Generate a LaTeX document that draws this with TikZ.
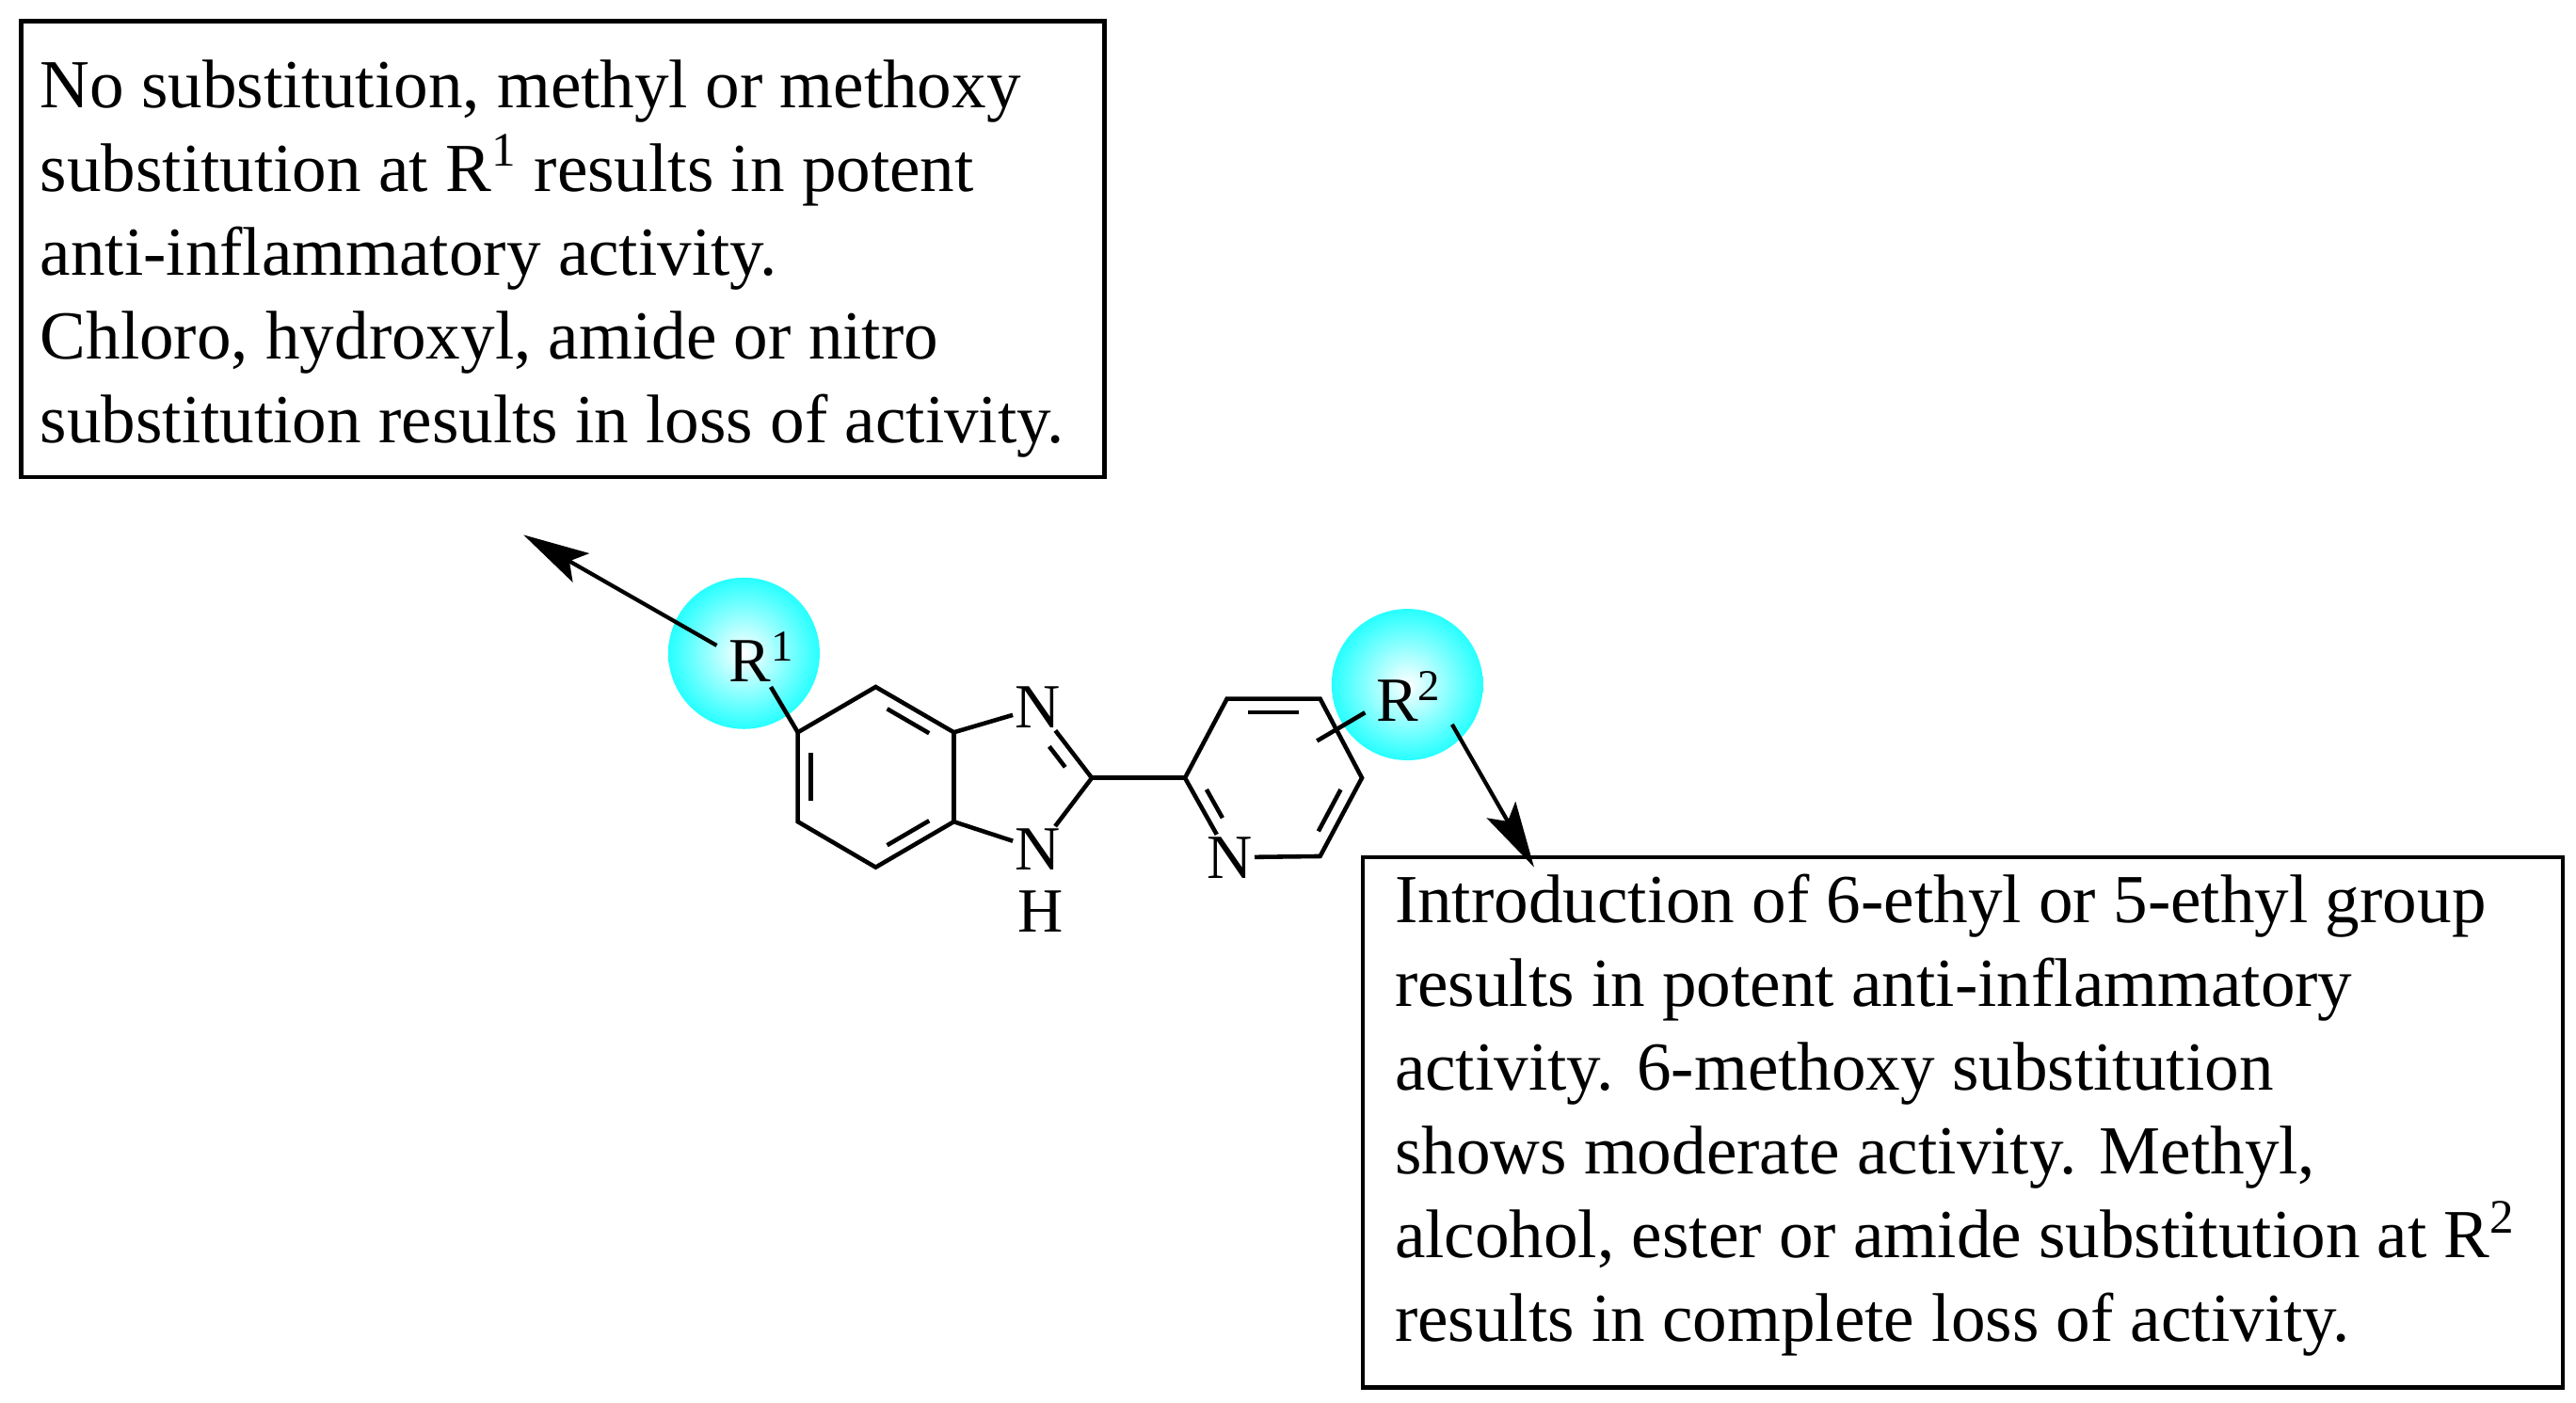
\documentclass[tikz,border=0pt]{standalone}
\usepackage{fontspec}
\setmainfont{Liberation Serif}
\usetikzlibrary{arrows.meta,calc}
\begin{document}
\begin{tikzpicture}[x=0.01749cm,y=-0.01749cm,
  bond/.style={line width=1.3pt},
  box/.style={draw,line width=1.3pt},
  txt/.style={anchor=north west,align=left,inner sep=0pt,font=\fontsize{20.8}{25.3}\selectfont},
  atom/.style={inner sep=0.5pt,fill=white,font=\fontsize{19}{19}\selectfont},
  arr/.style={line width=1.2pt,-{Stealth[length=20pt,width=10pt,inset=4pt]}}]
\useasboundingbox (0,0) rectangle (1565,852);
% boxes
\draw[box] (13,13) rectangle (671,290);
\node[txt] (t1) at (24,36) {No substitution, methyl or methoxy\\substitution at R\textsuperscript{1} results in potent\\anti-inflammatory activity.\\Chloro, hydroxyl, amide or nitro\\substitution results in loss of activity.};
\draw[box] (828,521) rectangle (1557,843);
\node[txt] (t2) at (847,531) {Introduction of 6-ethyl or 5-ethyl group\\results in potent anti-inflammatory\\activity. 6-methoxy substitution\\shows moderate activity. Methyl,\\alcohol, ester or amide substitution at R\textsuperscript{2}\\results in complete loss of activity.};
% circles
\shade[inner color=white,outer color=cyan!85!white] (452,397) ellipse (46 and 46);
\shade[inner color=white,outer color=cyan!85!white] (855,416) ellipse (46 and 46);
% coordinates
\coordinate (c5) at (484.7,445);
\coordinate (c4) at (532,417.4);
\coordinate (c3a) at (579.5,445);
\coordinate (c7a) at (579.5,499.3);
\coordinate (c7) at (532,527);
\coordinate (c6) at (484.7,499.3);
\coordinate (bc) at (532,472);
\coordinate (c2) at (663.3,472.7);
\coordinate (ic) at (612,472);
\coordinate (n3p) at (630.5,430);
\coordinate (p2) at (719.9,472.7);
\coordinate (p3) at (745.4,424.6);
\coordinate (p4) at (802,424.6);
\coordinate (p5) at (827.4,472.7);
\coordinate (p6) at (802,520.3);
\coordinate (pnp) at (747,521);
\coordinate (pc) at (773.7,472.7);
\node[atom] (n3) at (n3p) {N};
\node[atom] (n1) at (630.5,516) {N};
\node[atom,fill=none] (h1) at (632,554) {H};
\node[atom] (pn) at (pnp) {N};
\node[atom,fill=none] (r1) at (463,399) {R\textsuperscript{1}};
\node[atom,fill=none] (r2) at (856,423) {R\textsuperscript{2}};
\coordinate (r1b) at (468.3,417.4);
\coordinate (r2a) at (800.1,450.2);
\coordinate (r2b) at (829.3,433);
% bonds
\draw[bond] (c5)--(c4)--(c3a)--(c7a)--(c7)--(c6)--cycle;
\draw[bond,shorten <=4pt,shorten >=4pt] ($(c6)!0.17!(bc)$)--($(c5)!0.17!(bc)$);
\draw[bond,shorten <=4pt,shorten >=4pt] ($(c4)!0.17!(bc)$)--($(c3a)!0.17!(bc)$);
\draw[bond,shorten <=4pt,shorten >=4pt] ($(c7a)!0.17!(bc)$)--($(c7)!0.17!(bc)$);
\draw[bond] (c3a)--(n3);
\draw[bond] (c7a)--(n1);
\draw[bond] (n3)--(c2)--(n1);
\draw[bond,shorten <=9pt,shorten >=4pt] ($(n3p)!0.22!(ic)$)--($(c2)!0.22!(ic)$);
\draw[bond] (c2)--(p2);
\draw[bond] (pn)--(p2)--(p3)--(p4)--(p5)--(p6)--(pn);
\draw[bond,shorten <=4pt,shorten >=4pt] ($(p3)!0.17!(pc)$)--($(p4)!0.17!(pc)$);
\draw[bond,shorten <=4pt,shorten >=4pt] ($(p5)!0.17!(pc)$)--($(p6)!0.17!(pc)$);
\draw[bond,shorten <=4pt,shorten >=9pt] ($(p2)!0.17!(pc)$)--($(pnp)!0.17!(pc)$);
\draw[bond] (c5)--(r1b);
\draw[bond] (r2a)--(r2b);
% arrows
\coordinate (a1s) at (435.4,392.2);
\coordinate (a1e) at (318,325);
\coordinate (a2s) at (882.2,440.2);
\coordinate (a2e) at (932,527);
\draw[arr] (a1s)--(a1e);
\draw[arr] (a2s)--(a2e);
\end{tikzpicture}
\end{document}
